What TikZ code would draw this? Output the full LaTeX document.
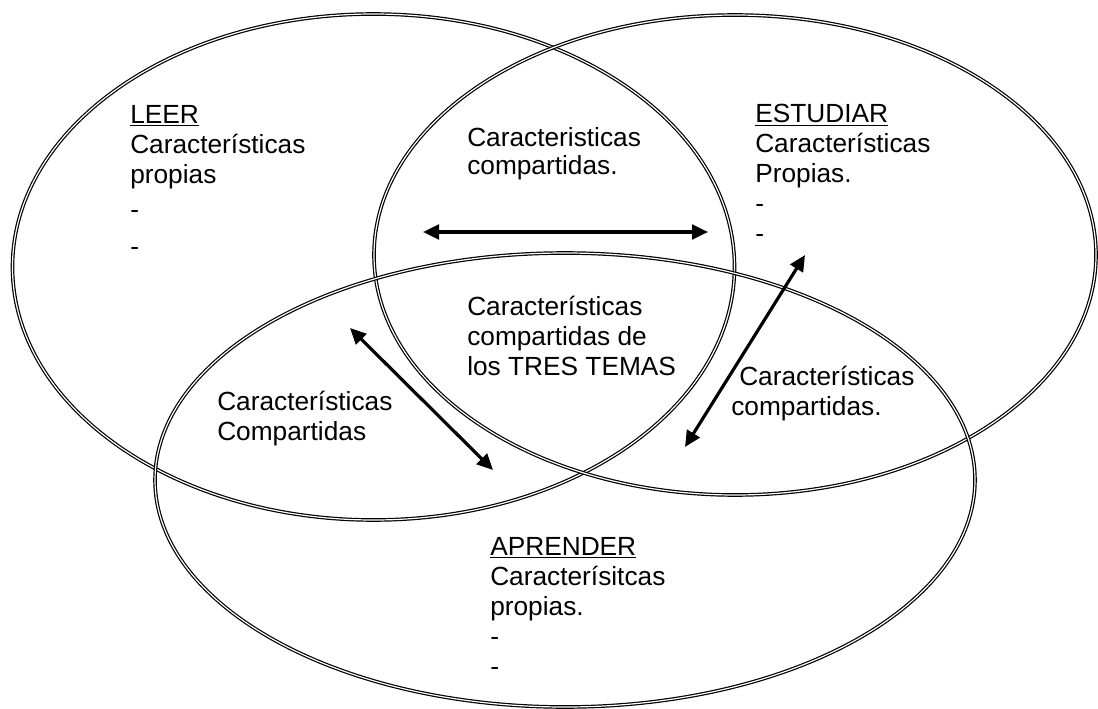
\documentclass[tikz,border=0pt]{standalone}
\usepackage{fontspec}
\setmainfont{Liberation Sans}
\usetikzlibrary{arrows.meta}

\tikzset{
  venn/.style={line width=0.9pt, double, double distance=0.9pt},
  twoway/.style={line width=2.4pt, {Triangle[length=12pt,width=11pt]}-{Triangle[length=12pt,width=11pt]}},
  txt/.style={anchor=base west, inner sep=0pt, align=left, font=\fontsize{19.7}{22.5}\selectfont}
}

\begin{document}
\begin{tikzpicture}[x=0.75pt,y=-0.75pt]
  \useasboundingbox (0,0) rectangle (1098,709);
  % centres of the three sets
  \coordinate (leer) at (373.5,267);
  \coordinate (estudiar) at (735,255);
  \coordinate (aprender) at (565,480);
  \draw [venn] (leer) ellipse [x radius=361, y radius=253];
  \draw [venn] (estudiar) ellipse [x radius=361, y radius=240];
  \draw [venn] (aprender) ellipse [x radius=410, y radius=227];

  % texts (placed at the baseline of their last line)
  \node [txt] (leertxt) at (130,255) {\underline{LEER}\\Características\\propias\\[4pt]-\\[5pt]-};
  \node [txt] (estudiartxt) at (755,243) {\underline{ESTUDIAR}\\Características\\Propias.\\-\\-};
  \node [txt] (aprendertxt) at (490,675) {\underline{APRENDER}\\Caracterísitcas\\propias.\\-\\-};
  \node [txt] (le) at (467,175) {Caracteristicas\\[-1.5pt]compartidas.};
  \node [txt] (tres) at (467,375) {Características\\compartidas de\\los TRES TEMAS};
  \node [txt] (la) at (217,440) {Características\\Compartidas};
  \node [txt] (ea) at (731,415) {\hspace{6pt}Características\\compartidas.};

  % arrows
  \coordinate (le1) at (423,232);
  \coordinate (le2) at (708,232);
  \coordinate (la1) at (350,328);
  \coordinate (la2) at (493,470);
  \coordinate (ea1) at (805,255);
  \coordinate (ea2) at (685,447);
  \draw [twoway] (le1) -- (le2);
  \draw [twoway] (la1) -- (la2);
  \draw [twoway] (ea1) -- (ea2);
\end{tikzpicture}
\end{document}
